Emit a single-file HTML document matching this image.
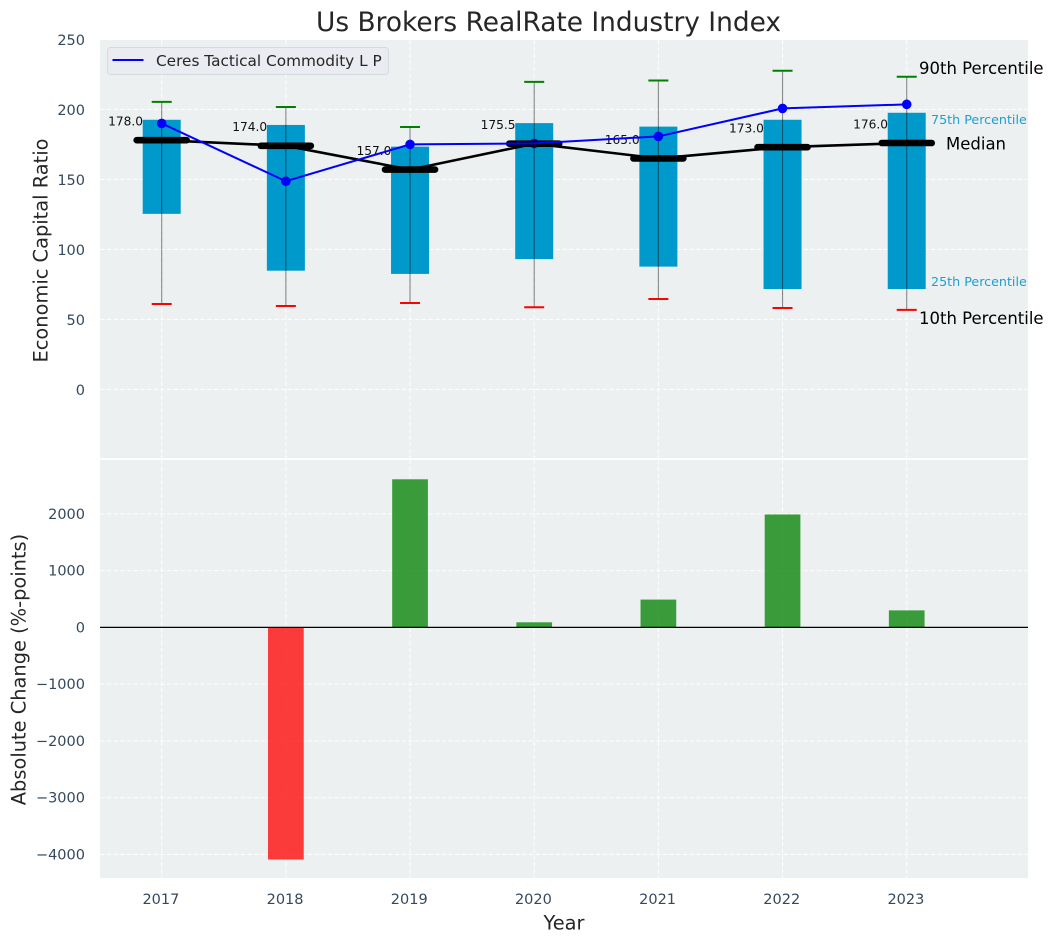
<!DOCTYPE html>
<html lang="en">
<head>
<meta charset="utf-8">
<title>Us Brokers RealRate Industry Index</title>
<style>
html,body{margin:0;padding:0;background:#fff;width:1054px;height:942px;overflow:hidden}
svg{display:block}
text{font-family:"DejaVu Sans","Liberation Sans",sans-serif}
</style>
</head>
<body>
<svg id="chart" xmlns="http://www.w3.org/2000/svg" width="1054" height="942" viewBox="0 0 1054 942"></svg>
<script>
const years = [2017, 2018, 2019, 2020, 2021, 2022, 2023];
const p90 = [205.4, 201.7, 187.4, 219.7, 220.6, 227.6, 223.3];
const p75 = [192.6, 188.9, 173.4, 190.2, 187.7, 192.6, 197.6];
const medians = [178, 174, 157, 175.5, 165, 173, 176];
const p25 = [125.4, 84.8, 82.5, 93.1, 87.7, 71.7, 71.7];
const p10 = [61, 59.6, 61.7, 58.7, 64.6, 58.1, 56.8];
const company = [190, 148.7, 175, 175.7, 180.7, 200.7, 203.6];
const changes = [0, -4090, 2610, 90, 490, 1990, 300];
const topTicks = [0, 50, 100, 150, 200, 250];
const bottomTicks = [-4000, -3000, -2000, -1000, 0, 1000, 2000];

const svg = document.getElementById('chart');
const NS = 'http://www.w3.org/2000/svg';
const L = 100, R = 1028, T1 = 40, B1 = 458, T2 = 460, B2 = 878;
const x = v => 161.7 + (v - 2017) * 124.17;
const yTop = v => 389.4 - v * 1.4;
const yBot = v => 627.4 - v * 0.05675;

function mk(tag, attrs, parent) {
  const el = document.createElementNS(NS, tag);
  for (const k in attrs) el.setAttribute(k, attrs[k]);
  (parent || svg).appendChild(el);
  return el;
}
function label(str, px, py, size, fill, anchor, parent) {
  const t = mk('text', {x: px, y: py, 'font-size': size, fill: fill, 'text-anchor': anchor || 'start', 'dominant-baseline': 'central'}, parent);
  t.textContent = str;
  return t;
}
const fmt = v => String(v).replace('-', '\u2212');
const tickColor = '#34495e';
const gridStyle = {stroke: '#ffffff', 'stroke-width': 1.1, 'stroke-dasharray': '4.5 2.2', 'stroke-opacity': 0.85};

const title = label('Us Brokers RealRate Industry Index', 548.5, 22.5, 26.4, '#262626', 'middle');



const topPanel = mk('rect', {x: L, y: T1, width: R - L, height: B1 - T1, fill: '#ecf0f1'});


const bottomPanel = mk('rect', {x: L, y: T2, width: R - L, height: B2 - T2, fill: '#ecf0f1'});



const grid = mk('g', {});


years.forEach(v => {
  mk('line', Object.assign({x1: x(v), x2: x(v), y1: T1, y2: B1}, gridStyle), grid);
  mk('line', Object.assign({x1: x(v), x2: x(v), y1: T2, y2: B2}, gridStyle), grid);
});
topTicks.forEach(v => {
  mk('line', Object.assign({x1: L, x2: R, y1: yTop(v), y2: yTop(v)}, gridStyle), grid);
});
bottomTicks.forEach(v => {
  mk('line', Object.assign({x1: L, x2: R, y1: yBot(v), y2: yBot(v)}, gridStyle), grid);
});

const topTickGroup = mk('g', {});


topTicks.forEach(v => label(fmt(v), 85, yTop(v) + 1.4, 14.5, tickColor, 'end', topTickGroup));

const bottomTickGroup = mk('g', {});


bottomTicks.forEach(v => label(fmt(v), 85, yBot(v) + 1, 14.5, tickColor, 'end', bottomTickGroup));

const xTickGroup = mk('g', {});


years.forEach(v => label(String(v), x(v) - 0.8, 899.8, 14.5, tickColor, 'middle', xTickGroup));

const yTitle1 = label('Economic Capital Ratio', 0, 0, 19.4, '#262626', 'middle');
yTitle1.setAttribute('transform', 'translate(41 250.5) rotate(-90)');


const yTitle2 = label('Absolute Change (%-points)', 0, 0, 19.4, '#262626', 'middle');
yTitle2.setAttribute('transform', 'translate(19 669.5) rotate(-90)');


const xTitle = label('Year', 564, 923, 19.4, '#262626', 'middle');



const boxW = 38, capW = 20, medW = 50;
years.forEach((yr, i) => {
  const cx = x(yr);
  const box = mk('rect', {x: cx - boxW / 2, y: yTop(p75[i]), width: boxW, height: yTop(p25[i]) - yTop(p75[i]), fill: '#0099cc'});
  
  
  const whisker = mk('line', {x1: cx, x2: cx, y1: yTop(p90[i]), y2: yTop(p10[i]), stroke: '#000', 'stroke-opacity': 0.45, 'stroke-width': 1.1});
  
  
  const capHigh = mk('line', {x1: cx - capW / 2, x2: cx + capW / 2, y1: yTop(p90[i]), y2: yTop(p90[i]), stroke: '#008000', 'stroke-width': 2});
  
  
  const capLow = mk('line', {x1: cx - capW / 2, x2: cx + capW / 2, y1: yTop(p10[i]), y2: yTop(p10[i]), stroke: '#ff0000', 'stroke-width': 2});
  
  
});

const pts = (arr, fy) => years.map((yr, i) => x(yr) + ',' + fy(arr[i])).join(' ');

const medianLine = mk('polyline', {points: pts(medians, yTop), fill: 'none', stroke: '#000', 'stroke-width': 2.6});



years.forEach((yr, i) => {
  const dot = mk('circle', {cx: x(yr), cy: yTop(company[i]), r: 4.8, fill: '#0000ff'});
  
  
});

years.forEach((yr, i) => {
  const cx = x(yr);
  const bar = mk('line', {x1: cx - medW / 2, x2: cx + medW / 2, y1: yTop(medians[i]), y2: yTop(medians[i]), stroke: '#000', 'stroke-width': 6.6, 'stroke-linecap': 'round'});
  
  
  const val = label(medians[i].toFixed(1), cx - 18.7, yTop(medians[i]) - 18.6, 12.2, '#111', 'end');
  
  
});

const companyLine = mk('polyline', {points: pts(company, yTop), fill: 'none', stroke: '#0000ff', 'stroke-width': 2});



const t90 = label('90th Percentile', 919, 68.3, 16.5, '#000');


const t75 = label('75th Percentile', 931, 119.6, 12.7, '#1d9fcf');


const tMed = label('Median', 946, 143.8, 16.5, '#000');


const t25 = label('25th Percentile', 931, 281.4, 12.7, '#1d9fcf');


const t10 = label('10th Percentile', 919, 318.3, 16.5, '#000');



const barW = 35.7;
years.forEach((yr, i) => {
  const v = changes[i];
  if (v === 0) return;
  const top = Math.min(yBot(v), yBot(0));
  const rect = mk('rect', {x: x(yr) - barW / 2, y: top, width: barW, height: Math.abs(yBot(v) - yBot(0)), fill: v >= 0 ? '#008000' : '#ff0000', 'fill-opacity': 0.76});
  
  
});
const zero = mk('line', {x1: L, x2: R, y1: yBot(0), y2: yBot(0), stroke: '#000', 'stroke-width': 1.3});



const legend = mk('g', {});


mk('rect', {x: 107.5, y: 47.5, width: 281, height: 27, rx: 3, fill: '#eaecf1', stroke: '#d6d9de', 'stroke-width': 1}, legend);
mk('line', {x1: 112.5, x2: 143.5, y1: 60, y2: 60, stroke: '#0000ff', 'stroke-width': 2}, legend);
label('Ceres Tactical Commodity L P', 156, 60.8, 15.3, '#262626', 'start', legend);
</script>
</body>
</html>
